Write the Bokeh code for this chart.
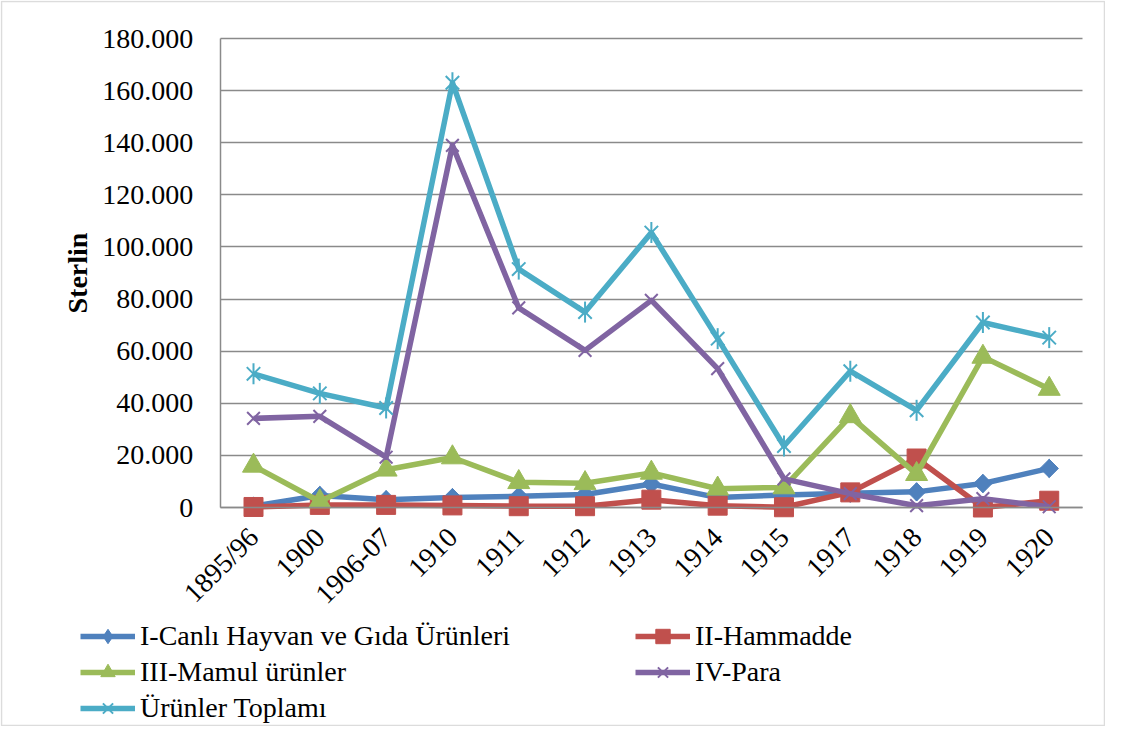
import math
from bokeh.plotting import figure
from bokeh.models import Range1d, FixedTicker, Legend, LegendItem, BoxAnnotation, Grid
from bokeh.embed import file_html
from bokeh.resources import INLINE

years = ["1895/96", "1900", "1906-07", "1910", "1911", "1912", "1913",
         "1914", "1915", "1917", "1918", "1919", "1920"]

canli = [500, 4600, 3000, 3800, 4300, 5000, 9000, 3800, 4800, 5500, 6000, 9200, 15000]
hammadde = [200, 1000, 1000, 800, 500, 500, 3000, 700, 100, 5800, 18800, 0, 2600]
mamul = [16000, 2300, 14500, 19200, 9700, 9300, 13300, 7200, 7700, 35000, 12800, 57800, 45500]
para = [34200, 35000, 19300, 139000, 76600, 60300, 79500, 53300, 11000, 5300, 700, 3400, 300]
toplam = [51300, 43800, 38200, 163000, 91500, 75000, 105500, 64800, 23600, 52300, 37300, 71000, 65200]

y_ticks = [0, 20000, 40000, 60000, 80000, 100000, 120000, 140000, 160000, 180000]
y_tick_labels = ["0", "20.000", "40.000", "60.000", "80.000", "100.000",
                 "120.000", "140.000", "160.000", "180.000"]

FONT = "Liberation Serif"
GRID = "#8a8a8a"
W, H = 1105, 726

# category slots: index positions along a numeric axis
xpos = list(range(len(years)))
n = len(years)
slot_px = 66.31          # pixel width of one category slot
first_px = 253.0         # pixel centre of first category
x_start = -first_px / slot_px
x_end = x_start + W / slot_px

ymax = y_ticks[-1]
y_top_px, y_zero_px = 38.0, 507.0
upp = ymax / (y_zero_px - y_top_px)
y_hi = ymax + y_top_px * upp
y_lo = -(H - y_zero_px) * upp

p = figure(width=W, height=H, x_range=Range1d(x_start, x_end),
           y_range=Range1d(y_lo, y_hi), output_backend="svg", toolbar_location=None,
           min_border=0)
p.outline_line_color = None
p.background_fill_color = "white"
p.border_fill_color = "white"

p.xgrid.grid_line_color = None
p.ygrid.ticker = FixedTicker(ticks=y_ticks)
p.ygrid.bounds = (0, ymax)
if "cross_bounds" in Grid.properties():
    p.ygrid.grid_line_color = GRID
    p.ygrid.grid_line_width = 1.5
    p.ygrid.cross_bounds = (-0.5, n - 0.5)
else:
    p.ygrid.grid_line_color = None
    p.segment(x0=[-0.5] * len(y_ticks), x1=[n - 0.5] * len(y_ticks),
              y0=y_ticks, y1=y_ticks, line_color=GRID, line_width=1.5)

p.yaxis.ticker = FixedTicker(ticks=y_ticks)
p.yaxis.major_label_overrides = {t: s for t, s in zip(y_ticks, y_tick_labels)}
p.yaxis.fixed_location = -0.5
p.yaxis.bounds = (0, ymax)
p.yaxis.axis_label = "Sterlin"
p.yaxis.axis_label_text_font = FONT
p.yaxis.axis_label_text_font_size = "28px"
p.yaxis.axis_label_text_font_style = "bold"
p.yaxis.axis_label_text_color = "black"
p.yaxis.axis_label_standoff = 7

p.xaxis.ticker = FixedTicker(ticks=xpos)
p.xaxis.major_label_overrides = {i: y for i, y in zip(xpos, years)}
p.xaxis.fixed_location = 0
p.xaxis.bounds = (-0.5, n - 0.5)

for ax in (p.xaxis[0], p.yaxis[0]):
    ax.axis_line_color = GRID
    ax.axis_line_width = 1.5
    ax.major_tick_line_color = None
    ax.minor_tick_line_color = None
    ax.major_tick_out = 0
    ax.major_tick_in = 0
    ax.major_label_text_font = FONT
    ax.major_label_text_font_size = "28px"
    ax.major_label_text_color = "black"

p.yaxis.major_label_standoff = 27
p.xaxis.major_label_orientation = math.pi / 4
p.xaxis.major_label_standoff = 25

series = [
    ("I-Canlı Hayvan ve Gıda Ürünleri", canli, "#4F81BD", "diamond"),
    ("II-Hammadde", hammadde, "#C0504D", "square"),
    ("III-Mamul ürünler", mamul, "#9BBB59", "triangle"),
    ("IV-Para", para, "#8064A2", "x"),
    ("Ürünler Toplamı", toplam, "#4BACC6", "star"),
]

items = {}
for name, vals, color, mk in series:
    line_r = p.line(xpos, vals, line_color=color, line_width=5.5, line_join="round")
    rs = [line_r]
    if mk == "diamond":
        p.scatter(xpos, vals, marker="square", size=13, angle=math.pi / 4,
                  fill_color=color, line_color=color)
        # inscribed diamond: gives the legend swatch its diamond shape
        rs.append(p.scatter(xpos, vals, marker="diamond", size=18,
                            fill_color=color, line_color=color))
    elif mk == "square":
        rs.append(p.scatter(xpos, vals, marker="square", size=19,
                            fill_color=color, line_color=color))
    elif mk == "triangle":
        rs.append(p.scatter(xpos, vals, marker="triangle", size=22,
                            fill_color=color, line_color=color))
    elif mk == "x":
        rs.append(p.scatter(xpos, vals, marker="x", size=18,
                            line_color=color, line_width=2))
    else:
        rs.append(p.scatter(xpos, vals, marker="x", size=19,
                            line_color=color, line_width=2))
        rs.append(p.scatter(xpos, vals, marker="dash", size=21, angle=math.pi / 2,
                            line_color=color, line_width=2))
    items[name] = LegendItem(label=name, renderers=rs)

names = [s[0] for s in series]


def make_legend(its, loc):
    lg = Legend(items=its, location=loc, orientation="vertical",
                glyph_width=55, glyph_height=36, spacing=0, padding=0, margin=0,
                label_standoff=5, label_height=36, label_text_font=FONT,
                label_text_font_size="28px", label_text_color="black",
                border_line_color=None, background_fill_alpha=0)
    p.add_layout(lg, "center")
    return lg


make_legend([items[names[0]], items[names[2]], items[names[4]]], (80, 0))
make_legend([items[names[1]], items[names[3]]], (635, 36))

p.add_layout(BoxAnnotation(left=1, right=W - 1, top=1, bottom=H - 1,
                           left_units="canvas", right_units="canvas",
                           top_units="canvas", bottom_units="canvas",
                           fill_alpha=0, line_color="#8c8c8c", line_width=1.5))

open("out.html", "w").write(file_html(p, INLINE))
